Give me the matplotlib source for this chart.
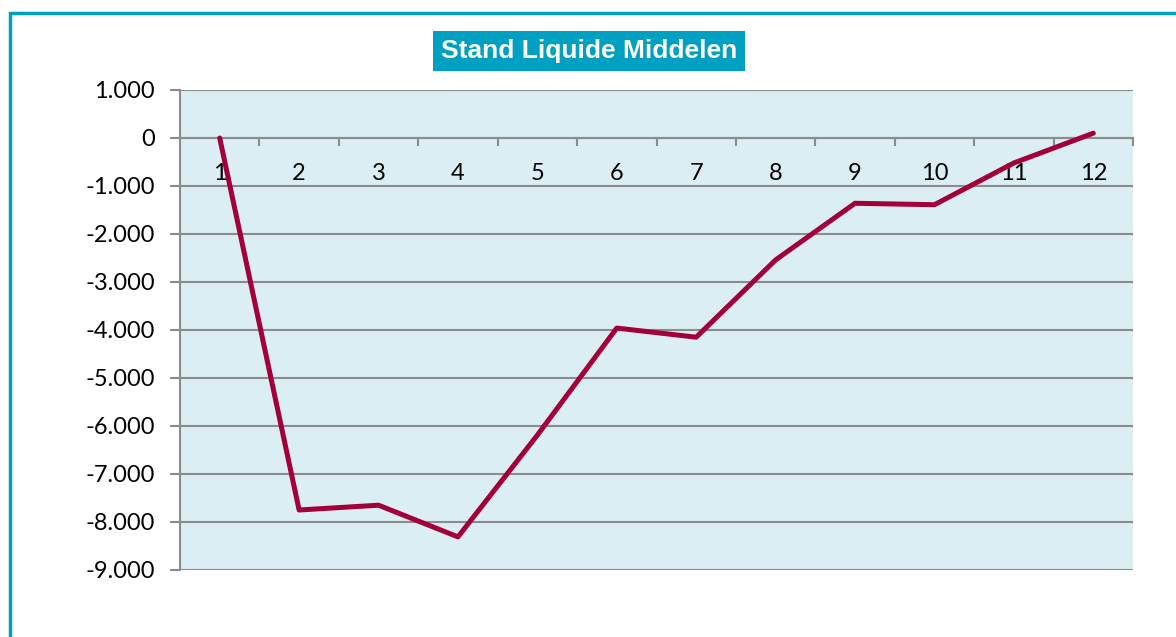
import matplotlib.pyplot as plt
from matplotlib.patches import Rectangle
from matplotlib.ticker import FuncFormatter, MultipleLocator

# maandstand liquide middelen
maanden = ["1", "2", "3", "4", "5", "6", "7", "8", "9", "10", "11", "12"]
stand = [0, -7750, -7650, -8310, -6190, -3960, -4150, -2540, -1360, -1390, -520, 100]

lijn_kleur = "#A3003A"
teal = "#00A0C2"
grid_kleur = "#8C8C8C"

fig = plt.figure(figsize=(11.76, 6.37), dpi=100)
ax = fig.add_axes([180 / 1176, 1 - 570 / 637, 953 / 1176, 480 / 637])
ax.set_facecolor("#DBEEF4")

x = list(range(len(maanden)))
ax.plot(x, stand, color=lijn_kleur, lw=3.6, solid_capstyle="round", zorder=3)

ax.set_xlim(-0.5, len(maanden) - 0.5)
ax.set_ylim(-9000, 1000)
ax.yaxis.set_major_locator(MultipleLocator(1000))
ax.yaxis.set_major_formatter(FuncFormatter(lambda v, p: f"{v:,.0f}".replace(",", ".")))
ax.grid(axis="y", color=grid_kleur, lw=1.5, zorder=1)
ax.set_axisbelow(True)

# x-as op de nullijn, streepjes tussen de categorieen
ax.spines["bottom"].set_position(("data", 0))
ax.spines["bottom"].set_color(grid_kleur)
ax.spines["bottom"].set_linewidth(1.5)
ax.spines["left"].set_color(grid_kleur)
ax.spines["left"].set_linewidth(1.5)
ax.spines["top"].set_visible(False)
ax.spines["right"].set_visible(False)

ax.set_xticks(x)
ax.set_xticklabels(maanden)
ax.set_xticks([i - 0.5 for i in range(len(maanden) + 1)], minor=True)
ax.tick_params(axis="x", which="major", length=0, pad=18, labelsize=17)
ax.tick_params(axis="x", which="minor", length=6, width=1.5, color=grid_kleur, direction="out")
ax.tick_params(axis="y", length=7, width=1.5, color=grid_kleur, pad=11, labelsize=17)
for lbl in ax.get_xticklabels() + ax.get_yticklabels():
    lbl.set_family(["Lato", "DejaVu Sans"])

fig.text(589 / 1176, 1 - 51 / 637, "Stand Liquide Middelen", ha="center", va="center",
         color="white", fontsize=19, fontweight="bold", family=["Liberation Sans", "DejaVu Sans"],
         bbox=dict(boxstyle="square,pad=0.3", fc=teal, ec="none"))

# kader rond de grafiek (rechts en onder buiten beeld)
fig.patches.append(Rectangle((9.5 / 1176, -0.1), 1.2, 1 - 13 / 637 + 0.1,
                             transform=fig.transFigure, fill=False, ec=teal, lw=2.5))

fig.savefig("out.png", dpi=100)
